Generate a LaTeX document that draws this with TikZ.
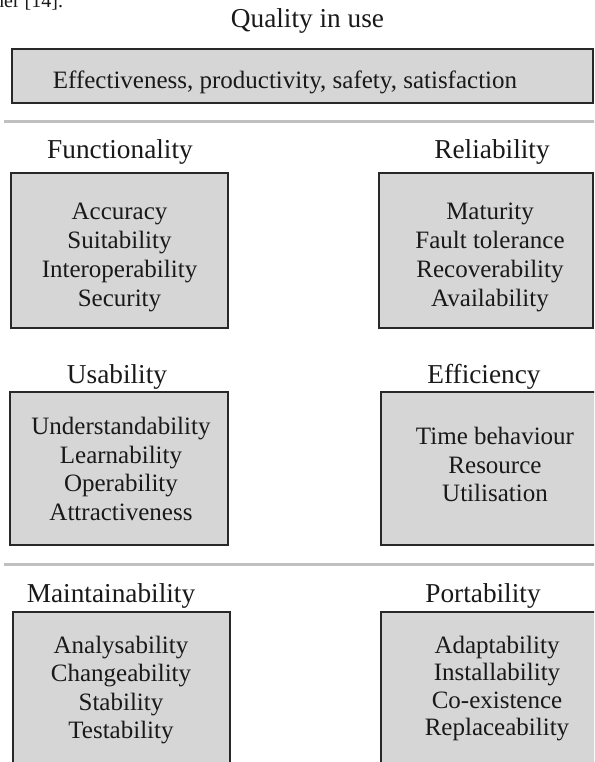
\documentclass[tikz,border=0pt]{standalone}
\usepackage{fontspec}
\setmainfont{Liberation Serif}
\definecolor{boxfill}{RGB}{214,214,214}
\definecolor{boxline}{RGB}{40,40,40}
\definecolor{sepline}{RGB}{192,192,192}
\definecolor{ink}{RGB}{25,25,25}
\tikzset{
  box/.style={draw=boxline, fill=boxfill, line width=1.8pt, inner sep=0pt, outer sep=0pt, rectangle},
  head/.style={anchor=base, inner sep=0pt, text=ink, font=\fontsize{27.3}{30}\selectfont},
  item/.style={anchor=base, inner sep=0pt, text=ink, font=\fontsize{25}{29}\selectfont},
  sep/.style={draw=sepline, line width=3.5pt}
}
\begin{document}
\begin{tikzpicture}[x=1pt,y=-1pt]
\useasboundingbox (0,0) rectangle (594,762);
\clip (0,0) rectangle (594,762);
\fill[white] (0,0) rectangle (594,762);
% cut-off text at the top
\node[anchor=base west, inner sep=0pt, text=ink, font=\fontsize{20}{24}\selectfont] (ref) at (-6,8) {der [14].};
% title and top box
\node[head] (qtitle) at (307.5,28) {Quality in use};
\node[box, minimum width=581pt, minimum height=54pt] (qbox) at (302.5,76) {};
\node[item] (qtext) at (285,89) {Effectiveness, productivity, safety, satisfaction};
% separators
\coordinate (s1a) at (4,121.5);
\coordinate (s1b) at (600,121.5);
\coordinate (s2a) at (4,564.5);
\coordinate (s2b) at (600,564.5);
\draw[sep] (s1a) -- (s1b);
\draw[sep] (s2a) -- (s2b);
% row 1
\node[head] (funhead) at (120,159) {Functionality};
\node[head] (relhead) at (492,159) {Reliability};
\node[box, minimum width=217pt, minimum height=155pt] (funbox) at (119.5,250.5) {};
\node[box, minimum width=214pt, minimum height=155pt] (relbox) at (486,250.5) {};
\foreach \t [count=\i] in {Accuracy,Suitability,Interoperability,Security}
  \node[item] (fun\i) at (119.5,{219.5+(\i-1)*29}) {\t};
\foreach \t [count=\i] in {Maturity,Fault tolerance,Recoverability,Availability}
  \node[item] (rel\i) at (490,{219.5+(\i-1)*29}) {\t};
% row 2
\node[head] (usahead) at (117,383) {Usability};
\node[head] (effhead) at (484,383) {Efficiency};
\node[box, minimum width=218pt, minimum height=153pt] (usabox) at (119,468.5) {};
\node[box, minimum width=216pt, minimum height=153pt] (effbox) at (489,468.5) {};
\foreach \t [count=\i] in {Understandability,Learnability,Operability,Attractiveness}
  \node[item] (usa\i) at (121,{434.5+(\i-1)*28.7}) {\t};
\foreach \t [count=\i] in {Time behaviour,Resource,Utilisation}
  \node[item] (eff\i) at (495,{444.5+(\i-1)*28.7}) {\t};
% row 3
\node[head] (maihead) at (111,602) {Maintainability};
\node[head] (porhead) at (483,602) {Portability};
\node[box, minimum width=217pt, minimum height=188pt] (maibox) at (121.5,706) {};
\node[box, minimum width=216pt, minimum height=188pt] (porbox) at (489,706) {};
\foreach \t [count=\i] in {Analysability,Changeability,Stability,Testability}
  \node[item] (mai\i) at (121,{653+(\i-1)*28.5}) {\t};
\foreach \t [count=\i] in {Adaptability,Installability,Co-existence,Replaceability}
  \node[item] (por\i) at (497,{653+(\i-1)*27.5}) {\t};
\end{tikzpicture}
\end{document}
